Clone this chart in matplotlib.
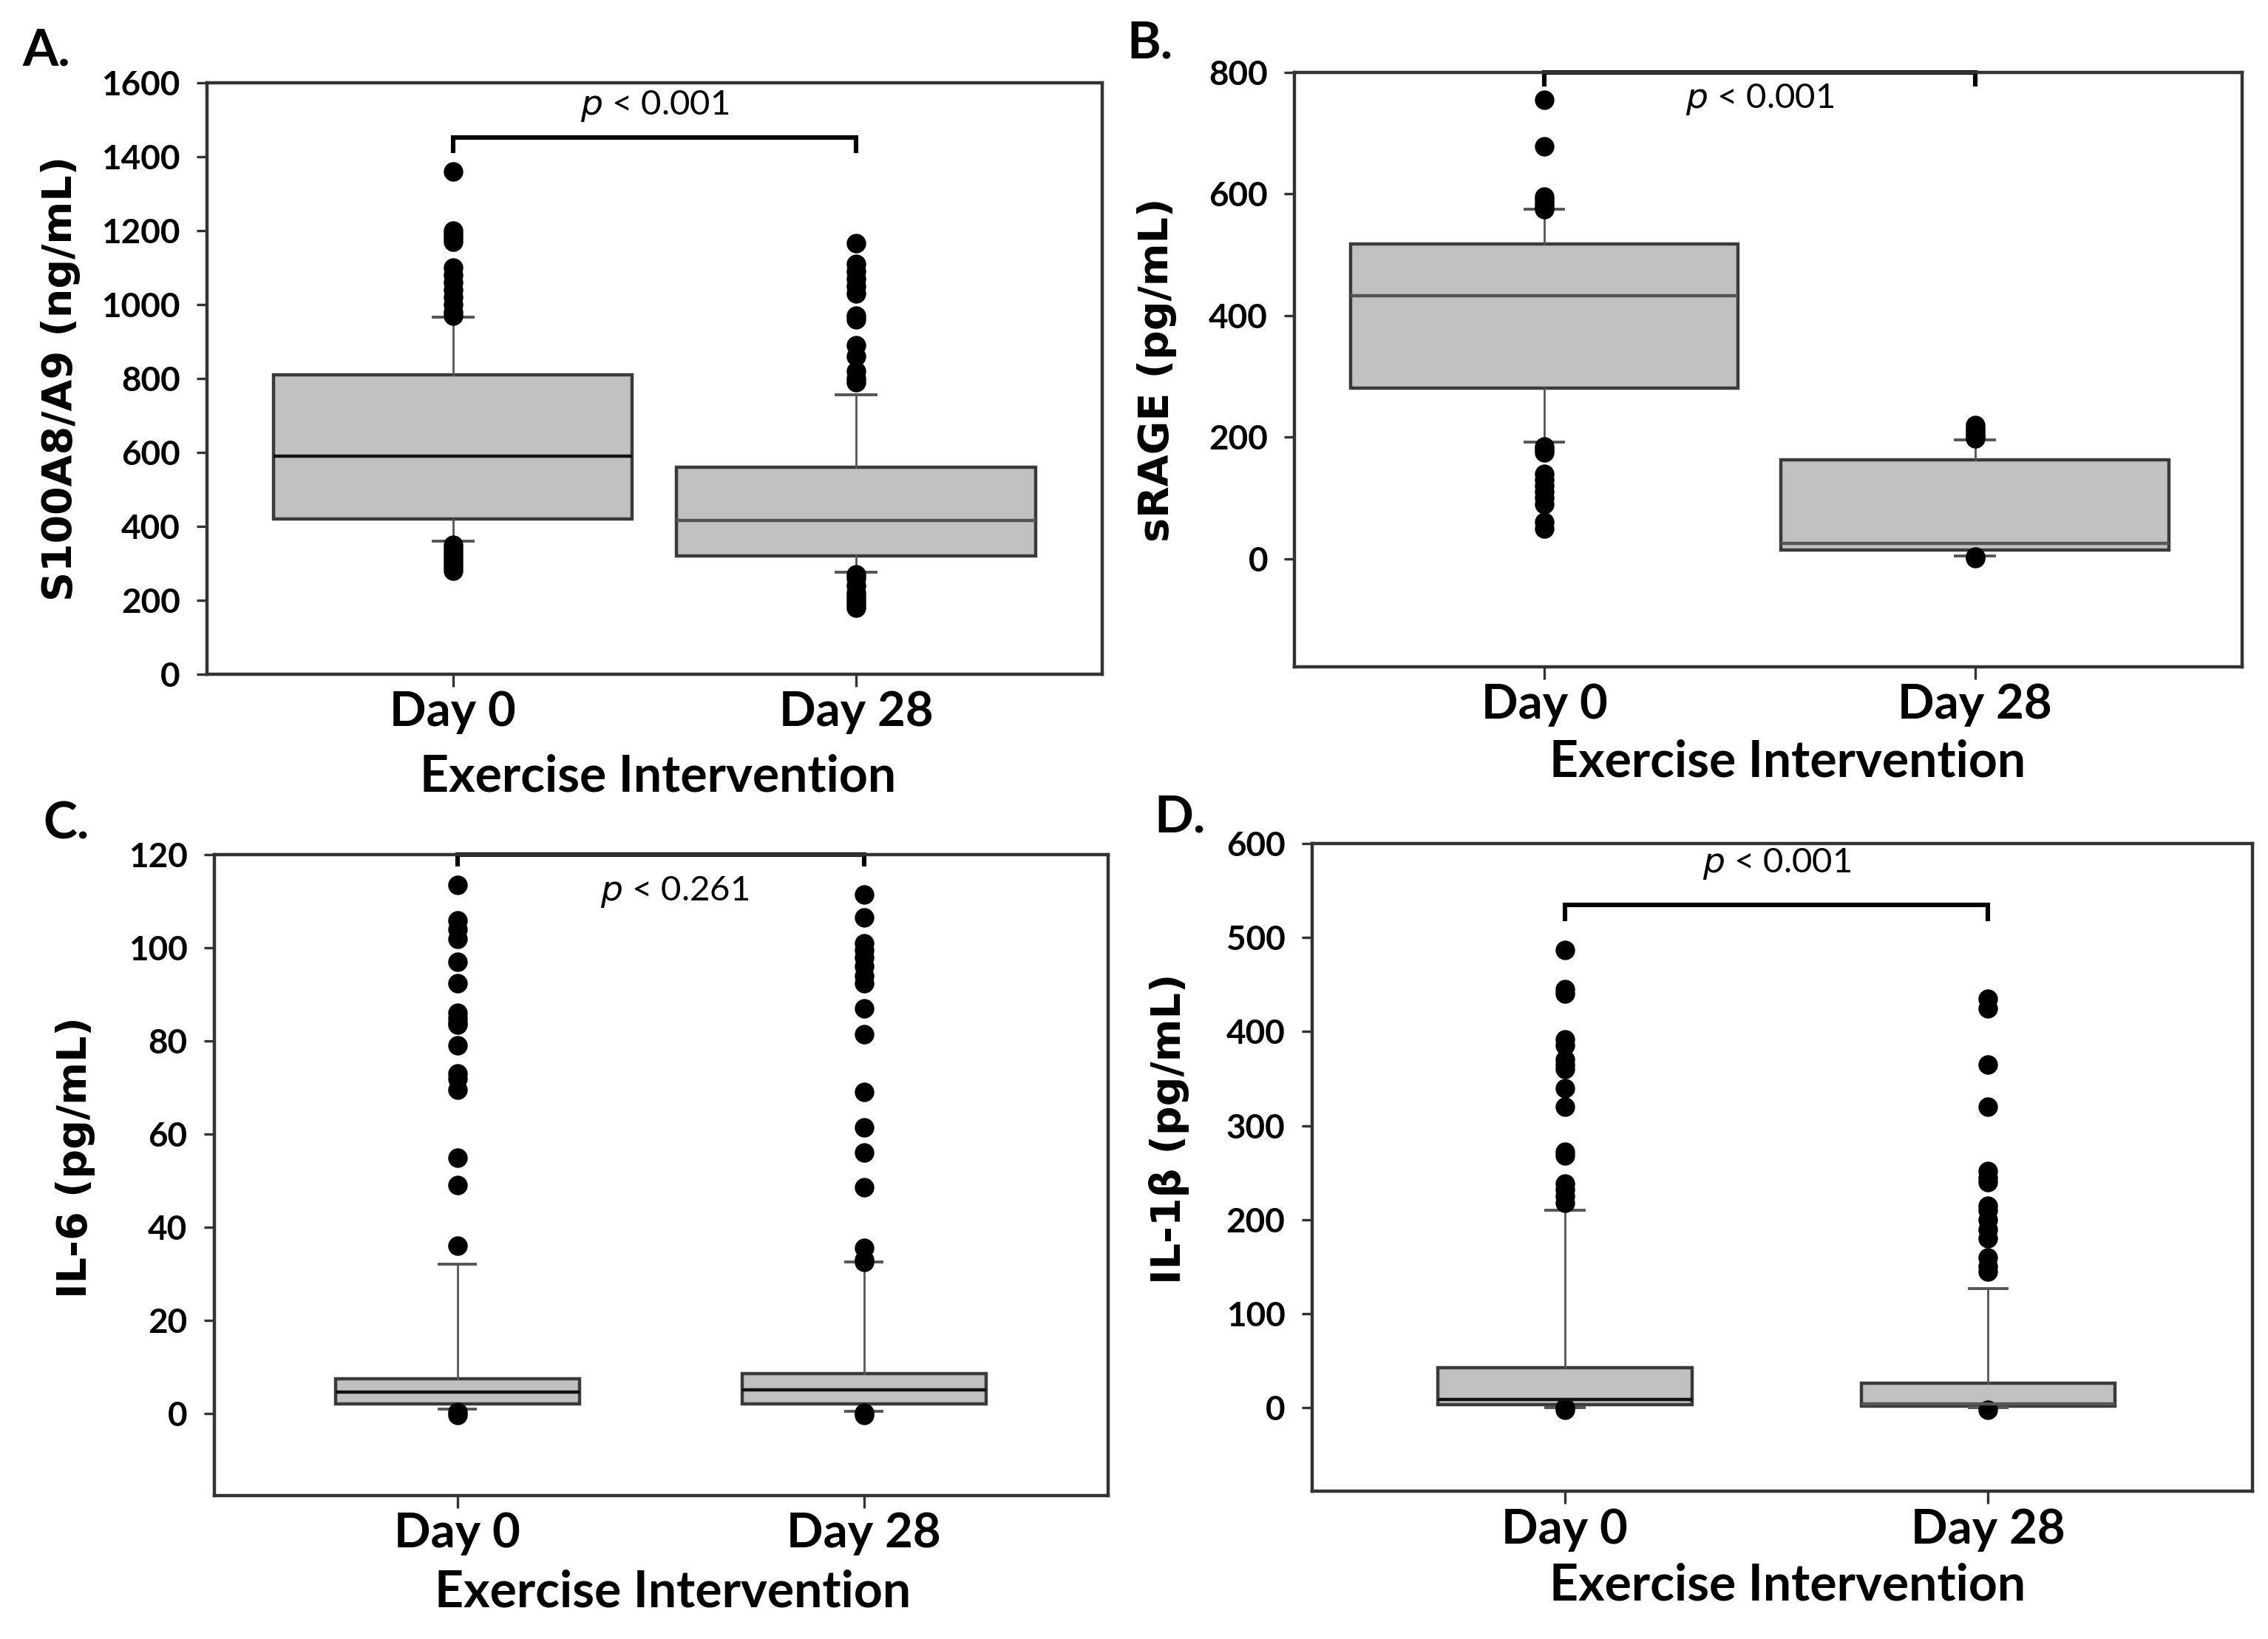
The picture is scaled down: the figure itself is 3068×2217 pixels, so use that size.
import matplotlib
matplotlib.use("Agg")
import matplotlib.pyplot as plt
import numpy as np

# ---------------- data ----------------
groups = ["Day 0", "Day 28"]

# Panel A: S100A8/A9 (ng/mL)
a_med = [590, 415]
a_q1 = [420, 320]
a_q3 = [810, 560]
a_wlo = [360, 275]
a_whi = [965, 755]
a_fl_d0 = [1360, 1200, 1190, 1180, 1170, 1100, 1080, 1060, 1040, 1020, 1000, 980, 970,
           350, 340, 330, 320, 310, 300, 290, 280]
a_fl_d28 = [1165, 1110, 1090, 1070, 1050, 1030, 970, 960, 890, 860, 820, 800, 790,
            270, 260, 240, 220, 210, 200, 190, 180]

# Panel B: sRAGE (pg/mL)
b_med = [432, 25]
b_q1 = [280, 14]
b_q3 = [518, 163]
b_wlo = [192, 5]
b_whi = [575, 195]
b_fl_d0 = [755, 678, 595, 590, 585, 580, 575,
           185, 180, 175, 140, 130, 120, 110, 100, 90, 60, 50]
b_fl_d28 = [220, 215, 210, 205, 200, 198, 3, 1]

# Panel C: IL-6 (pg/mL)
c_med = [4.5, 5.0]
c_q1 = [2.0, 2.0]
c_q3 = [7.5, 8.5]
c_wlo = [1.0, 0.5]
c_whi = [32, 32.5]
c_fl_d0 = [113.5, 106, 104, 102, 97, 92.5, 86, 85, 84, 83.5, 79, 73, 72, 69.5, 55, 49, 36,
           0.3, -0.3]
c_fl_d28 = [111.5, 106.5, 101, 99.5, 98, 96, 94, 92.5, 87, 81.5, 69, 61.5, 56, 48.5,
            35.5, 33, 32.5, 0.2, -0.4]

# Panel D: IL-1beta (pg/mL)
d_med = [9, 4]
d_q1 = [3, 2]
d_q3 = [43, 26]
d_wlo = [0, 0]
d_whi = [210, 127]
d_fl_d0 = [487, 445, 440, 392, 385, 370, 365, 360, 340, 320, 272, 268, 238, 232, 225, 218,
           -2, 0]
d_fl_d28 = [435, 425, 365, 320, 252, 245, 240, 215, 210, 200, 190, 180, 160, 150, 145, -2]

p_texts = ["p < 0.001", "p < 0.001", "p < 0.261", "p < 0.001"]
y_labels = ["S100A8/A9 (ng/mL)", "sRAGE (pg/mL)", "IL-6 (pg/mL)", "IL-1\u03b2 (pg/mL)"]
y_ticks = [np.arange(0, 1601, 200), np.arange(0, 801, 200),
           np.arange(0, 121, 20), np.arange(0, 601, 100)]
panel_letters = ["A.", "B.", "C.", "D."]
x_title = "Exercise Intervention"

# ---------------- layout ----------------
W, H = 3068, 2217
DPI = 200
fig = plt.figure(figsize=(W / DPI, H / DPI), dpi=DPI)

rects = [[0.0912, 0.5887, 0.3948, 0.3610],
         [0.5708, 0.5931, 0.4177, 0.3628],
         [0.0944, 0.0874, 0.3941, 0.3910],
         [0.5784, 0.0900, 0.4146, 0.3954]]
xlims = [(-0.611, 1.611), (-0.58, 1.62), (-0.598, 1.600), (-0.598, 1.624)]
ylims = [(0, 1600), (-178, 800), (-17.7, 120), (-89, 600)]
box_w = [0.89, 0.90, 0.60, 0.60]
cap_w = [0.10, 0.09, 0.09, 0.09]
med_colors = [["#111111", "#555555"], ["#555555", "#555555"],
              ["#111111", "#111111"], ["#111111", "#555555"]]
# bracket: (y of bar, y of leg end); text (x, y)
brackets = [(1451, 1416), (800, 780), (120, 118), (535, 520)]
ptext_pos = [(0.5, 1537), (0.5, 755), (0.535, 112), (0.5, 578)]
ylabel_xy = [(-0.163, 0.5), (-0.145, 0.5), (-0.155, 0.528), (-0.152, 0.56)]
xlabel_xy = [(0.504, -0.174), (0.52, -0.16), (0.513, -0.151), (0.506, -0.145)]
letter_xy = [(0.010, 0.969), (0.497, 0.9735), (0.019, 0.497), (0.509, 0.501)]

stats_all = [
    (a_med, a_q1, a_q3, a_wlo, a_whi, [a_fl_d0, a_fl_d28]),
    (b_med, b_q1, b_q3, b_wlo, b_whi, [b_fl_d0, b_fl_d28]),
    (c_med, c_q1, c_q3, c_wlo, c_whi, [c_fl_d0, c_fl_d28]),
    (d_med, d_q1, d_q3, d_wlo, d_whi, [d_fl_d0, d_fl_d28]),
]

tick_font = "Lato"
label_font = "DejaVu Sans"
positions = [0, 1]

for i in range(4):
    ax = fig.add_axes(rects[i])
    med, q1, q3, wlo, whi, fl = stats_all[i]
    stats = []
    for j in range(2):
        stats.append(dict(med=med[j], q1=q1[j], q3=q3[j], whislo=wlo[j], whishi=whi[j],
                          fliers=np.array(fl[j], dtype=float)))
    bp = ax.bxp(stats, positions=positions, widths=box_w[i], capwidths=cap_w[i],
                patch_artist=True, showfliers=True,
                boxprops=dict(facecolor="#c0c0c0", edgecolor="#3a3a3a", linewidth=1.6),
                whiskerprops=dict(color="#555555", linewidth=1.0),
                capprops=dict(color="#555555", linewidth=1.4),
                medianprops=dict(color="#333333", linewidth=1.6),
                flierprops=dict(marker="o", markerfacecolor="black",
                                markeredgecolor="black", markersize=8.5))
    for j, m in enumerate(bp["medians"]):
        m.set_color(med_colors[i][j])
    ax.set_xlim(*xlims[i])
    ax.set_ylim(*ylims[i])
    ax.set_yticks(y_ticks[i])
    ax.set_xticks(positions)
    ax.set_xticklabels(groups, fontsize=23.5, fontweight="bold", family=tick_font)
    for lab in ax.get_yticklabels():
        lab.set_fontsize(16.5)
        lab.set_fontweight("bold")
        lab.set_family(tick_font)
    ax.tick_params(axis="y", direction="out", length=5, width=1.2, pad=8, color="#333333")
    ax.tick_params(axis="x", direction="out", length=6, width=1.2, pad=2, color="#333333")
    for sp in ax.spines.values():
        sp.set_color("#333333")
        sp.set_linewidth(1.6)

    # significance bracket
    yb, yl = brackets[i]
    ax.plot([positions[0], positions[0], positions[1], positions[1]], [yl, yb, yb, yl],
            color="black", linewidth=2.2, clip_on=False, solid_joinstyle="miter")
    tx, ty = ptext_pos[i]
    ptxt = p_texts[i]
    ax.text(tx, ty, "$\\it{p}$" + ptxt[1:], ha="center", va="center", fontsize=17,
            family=tick_font, fontweight="normal")

    ax.set_ylabel(y_labels[i], fontsize=20, fontweight="bold", family=label_font,
                  va="center")
    ax.yaxis.set_label_coords(*ylabel_xy[i])
    ax.set_xlabel(x_title, fontsize=24.5, fontweight="bold", family=tick_font,
                  va="center")
    ax.xaxis.set_label_coords(*xlabel_xy[i])

    fig.text(letter_xy[i][0], letter_xy[i][1], panel_letters[i], fontsize=25,
             fontweight="bold", family=tick_font, ha="left", va="center")

fig.savefig("out.png", dpi=DPI, facecolor="white")
